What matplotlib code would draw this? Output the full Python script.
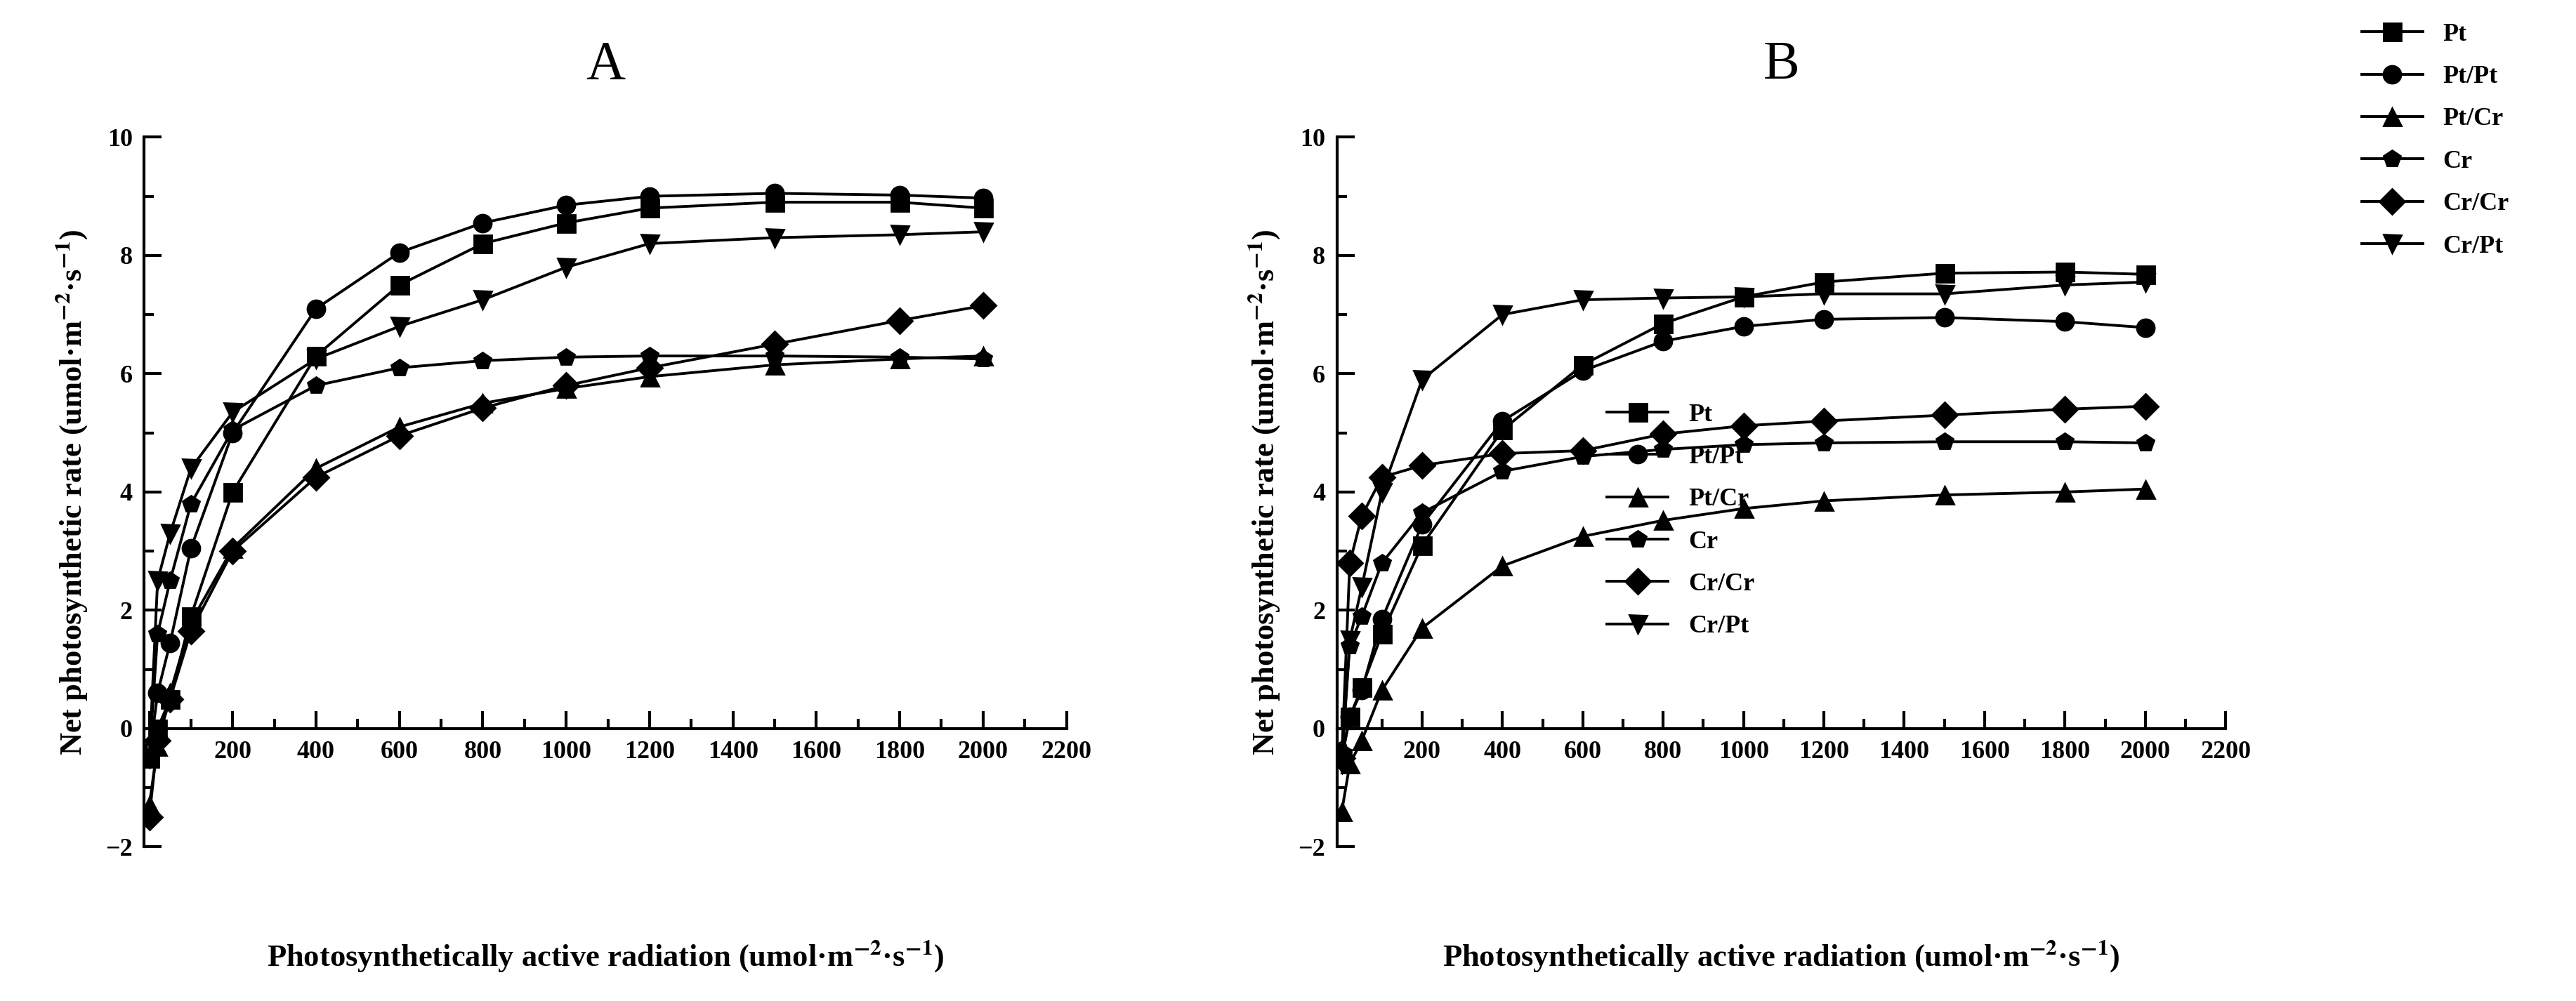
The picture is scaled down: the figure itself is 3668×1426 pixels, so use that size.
import matplotlib
matplotlib.use("Agg")
import matplotlib.pyplot as plt
from matplotlib.ticker import MultipleLocator

plt.rcParams['font.family'] = ['Liberation Serif', 'DejaVu Serif']
plt.rcParams['mathtext.fontset'] = 'stix'

par = [0, 20, 50, 100, 200, 400, 600, 800, 1000, 1200, 1500, 1800, 2000]
labels = ["Pt", "Pt/Pt", "Pt/Cr", "Cr", "Cr/Cr", "Cr/Pt"]
markers = ['s', 'o', '^', 'p', 'D', 'v']

A_Pt   = [-0.5, 0.0, 0.5, 1.9, 4.0, 6.3, 7.5, 8.2, 8.55, 8.8, 8.9, 8.9, 8.8]
A_PtPt = [-0.5, 0.6, 1.45, 3.05, 5.0, 7.1, 8.05, 8.55, 8.85, 9.0, 9.05, 9.02, 8.97]
A_PtCr = [-1.3, -0.3, 0.6, 1.8, 3.05, 4.4, 5.1, 5.5, 5.75, 5.95, 6.15, 6.25, 6.3]
A_Cr   = [-0.5, 1.6, 2.5, 3.8, 5.05, 5.8, 6.1, 6.22, 6.28, 6.3, 6.3, 6.28, 6.25]
A_CrCr = [-1.5, -0.2, 0.5, 1.65, 3.0, 4.25, 4.95, 5.42, 5.8, 6.1, 6.5, 6.9, 7.15]
A_CrPt = [-0.5, 2.5, 3.3, 4.4, 5.35, 6.25, 6.8, 7.25, 7.8, 8.2, 8.3, 8.35, 8.4]

B_Pt   = [-0.5, 0.2, 0.7, 1.6, 3.1, 5.05, 6.15, 6.85, 7.3, 7.55, 7.7, 7.72, 7.68]
B_PtPt = [-0.5, 0.2, 0.65, 1.85, 3.45, 5.2, 6.05, 6.55, 6.8, 6.92, 6.95, 6.88, 6.78]
B_PtCr = [-1.4, -0.6, -0.2, 0.65, 1.7, 2.75, 3.25, 3.52, 3.72, 3.85, 3.95, 4.0, 4.05]
B_Cr   = [-0.4, 1.4, 1.9, 2.8, 3.65, 4.35, 4.6, 4.72, 4.8, 4.83, 4.85, 4.85, 4.83]
B_CrCr = [-0.5, 2.8, 3.6, 4.25, 4.45, 4.65, 4.7, 4.98, 5.12, 5.2, 5.3, 5.4, 5.45]
B_CrPt = [-0.6, 1.5, 2.4, 4.0, 5.9, 7.0, 7.25, 7.28, 7.3, 7.35, 7.35, 7.5, 7.55]

panels = [("A", [A_Pt, A_PtPt, A_PtCr, A_Cr, A_CrCr, A_CrPt]),
          ("B", [B_Pt, B_PtPt, B_PtCr, B_Cr, B_CrCr, B_CrPt])]

fig = plt.figure(figsize=(18.34, 7.13), dpi=200)
rects = [[0.056, 0.154, 0.358, 0.709], [0.519, 0.154, 0.345, 0.709]]
for (title, series), rect in zip(panels, rects):
    ax = fig.add_axes(rect)
    for y, lab, m in zip(series, labels, markers):
        ax.plot(par, y, color='black', marker=m, markersize=9, linewidth=1.4, label=lab)
    ax.set_xlim(-12, 2200)
    ax.set_ylim(-2, 10)
    ax.spines['top'].set_visible(False)
    ax.spines['right'].set_visible(False)
    ax.spines['bottom'].set_position(('data', 0))
    ax.spines['left'].set_linewidth(1.5)
    ax.spines['bottom'].set_linewidth(1.5)
    ax.xaxis.set_major_locator(MultipleLocator(200))
    ax.xaxis.set_minor_locator(MultipleLocator(100))
    ax.yaxis.set_major_locator(MultipleLocator(2))
    ax.yaxis.set_minor_locator(MultipleLocator(1))
    ax.tick_params(which='major', direction='in', length=9, width=1.5, labelsize=13, pad=6)
    ax.tick_params(which='minor', direction='in', length=5, width=1.5)
    for t in ax.get_xticklabels() + ax.get_yticklabels():
        t.set_fontweight('bold')
    ax.set_ylabel(r"Net photosynthetic rate (umol·m$^{\mathbf{-2}}$·s$^{\mathbf{-1}}$)",
                  fontsize=16, fontweight='bold', labelpad=8)
    ax.text(0.5, -0.155, r"Photosynthetically active radiation (umol·m$^{\mathbf{-2}}$·s$^{\mathbf{-1}}$)",
            transform=ax.transAxes, ha='center', va='center', fontsize=16, fontweight='bold')
    ax.set_title(title, fontsize=28, pad=30)
    if title == "A":
        leg = fig.legend(handles=ax.get_lines(), loc='upper left', bbox_to_anchor=(0.615, 0.62),
                         frameon=False, fontsize=13, handlelength=2.4, labelspacing=0.75)
    else:
        leg = fig.legend(handles=ax.get_lines(), loc='upper left', bbox_to_anchor=(0.908, 1.0),
                         frameon=False, fontsize=13, handlelength=2.4, labelspacing=0.75)
    for t in leg.get_texts():
        t.set_fontweight('bold')

fig.savefig("out.png", dpi=200)
